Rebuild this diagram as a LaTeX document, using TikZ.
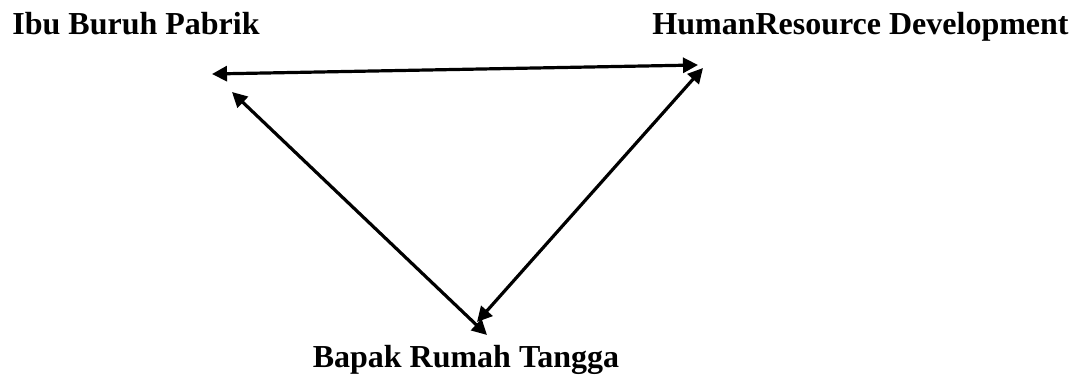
\documentclass[tikz,border=0pt]{standalone}
\usepackage{fontspec}
\setmainfont{Liberation Serif}
\usepackage{tikz}
\usetikzlibrary{arrows.meta,calc,positioning}
\tikzset{
    mylabel/.style={font=\fontsize{16}{19}\selectfont\bfseries,inner sep=0pt},
    myarrow/.style={line width=1.6pt,draw=black,{Triangle[length=7.5pt,width=7.5pt]}-{Triangle[length=7.5pt,width=7.5pt]}}
}

\begin{document}
\begin{tikzpicture}[x=0.5pt,y=0.5pt]
  \useasboundingbox (0,0) rectangle (1077,378);

  \node[mylabel,anchor=base west] (ibu) at (12,343) {Ibu Buruh Pabrik};
  \node[mylabel,anchor=base west] (hrd) at (652,343) {HumanResource Development};
  \node[mylabel,anchor=base] (bapak) at (466,10) {Bapak Rumah Tangga};

  \coordinate (IT) at (212,304);
  \coordinate (HT) at (698,313);
  \coordinate (IL) at (232,286);
  \coordinate (BL) at (487,43);
  \coordinate (HR) at (703,310);
  \coordinate (BR) at (477,56);

  \draw[myarrow] (IT) -- (HT);
  \draw[myarrow] (IL) -- (BL);
  \draw[myarrow] (HR) -- (BR);
\end{tikzpicture}
\end{document}
